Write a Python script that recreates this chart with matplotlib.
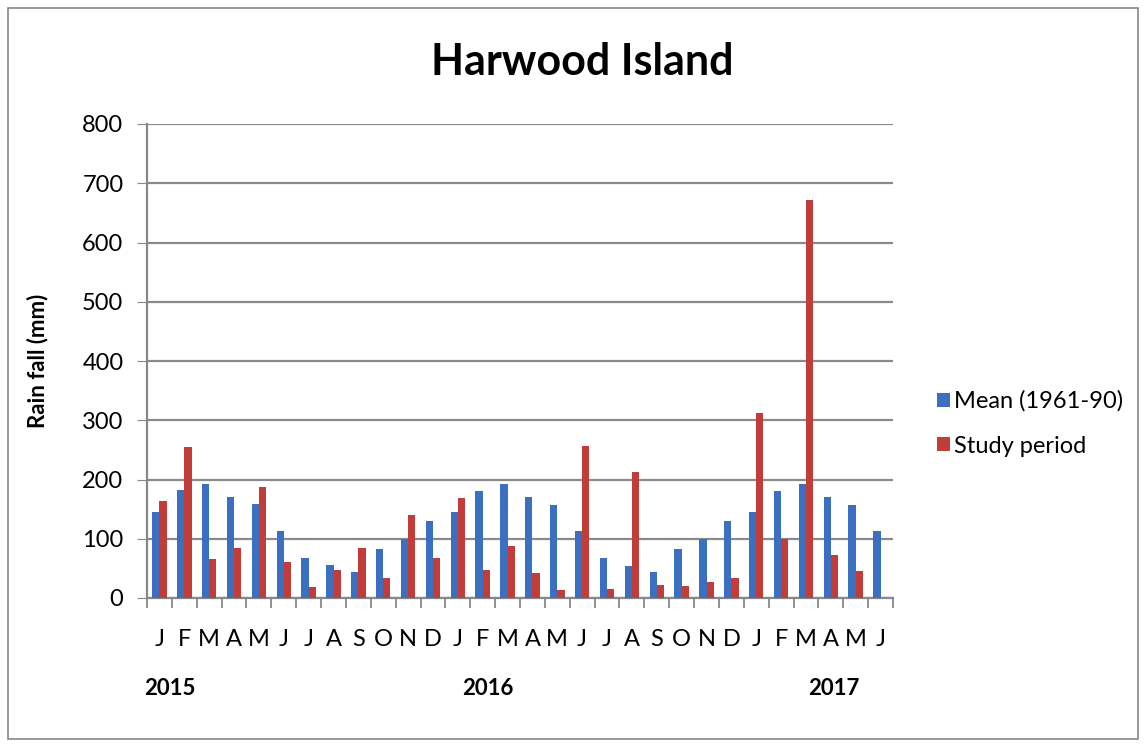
import matplotlib
matplotlib.use("Agg")
import matplotlib.pyplot as plt
import numpy as np
from matplotlib.patches import Rectangle

months = ["J", "F", "M", "A", "M", "J", "J", "A", "S", "O", "N", "D",
          "J", "F", "M", "A", "M", "J", "J", "A", "S", "O", "N", "D",
          "J", "F", "M", "A", "M", "J"]
mean_1961_90 = [145, 182, 192, 170, 158, 113, 68, 55, 44, 83, 100, 130,
                145, 181, 192, 170, 157, 113, 68, 54, 44, 83, 100, 130,
                145, 181, 192, 170, 157, 113]
study_period = [163, 255, 65, 85, 188, 60, 18, 48, 85, 34, 140, 67,
                168, 48, 87, 42, 13, 256, 15, 213, 22, 20, 27, 34,
                312, 100, 671, 72, 46, np.nan]
years = ["2015", "2016", "2017"]
year_positions = [0.4, 13.2, 27.1]
yticks = [0, 100, 200, 300, 400, 500, 600, 700, 800]

plt.rcParams['font.family'] = ['Lato', 'DejaVu Sans']

fig = plt.figure(figsize=(11.46, 7.47), dpi=100)
ax = fig.add_axes([147/1146, 149/747, (893-147)/1146, (598-124)/747])

x = np.arange(len(months))
w = 0.29
ax.bar(x - w/2, mean_1961_90, width=w, color="#3b6fbf", label="Mean (1961-90)", zorder=3)
ax.bar(x + w/2, study_period, width=w, color="#c23d3a", label="Study period", zorder=3)

ax.set_xlim(-0.5, len(months) - 0.5)
ax.set_ylim(0, 800)
ax.set_yticks(yticks)
ax.tick_params(axis='y', length=7, color="#888888", labelsize=17, pad=10)
ax.yaxis.grid(True, color="#8a8a8a", linewidth=1.6, zorder=0)
ax.set_axisbelow(True)

ax.set_xticks(np.arange(-0.5, len(months)), minor=False)
ax.set_xticklabels([])
ax.tick_params(axis='x', which='major', length=7, color="#888888", width=1.3)
ax.set_xticks(x, minor=True)
ax.set_xticklabels(months, minor=True)
ax.tick_params(axis='x', which='minor', length=0, labelsize=17, pad=22)

for s in ["top", "right"]:
    ax.spines[s].set_visible(False)
for s in ["left", "bottom"]:
    ax.spines[s].set_color("#888888")
    ax.spines[s].set_linewidth(1.6)

ax.set_ylabel("Rain fall (mm)", fontsize=16, fontweight="bold", labelpad=24)

fig.text(0.508, 0.917, "Harwood Island", ha="center", va="center",
         fontsize=31, fontweight="bold")

for yr, pos in zip(years, year_positions):
    ax.text(pos, -0.19, yr, transform=ax.get_xaxis_transform(),
            ha="center", va="center", fontsize=16, fontweight="bold")

ax.legend(loc="center left", bbox_to_anchor=(1.03, 0.368), frameon=False,
          fontsize=17, handlelength=0.55, handleheight=0.55,
          handletextpad=0.2, labelspacing=1.0)

fig.patches.append(Rectangle((8/1146, 8/747), 1 - 16/1146, 1 - 16/747,
                             transform=fig.transFigure, fill=False,
                             edgecolor="#888888", linewidth=1.2))

fig.savefig("out.png", dpi=100)
